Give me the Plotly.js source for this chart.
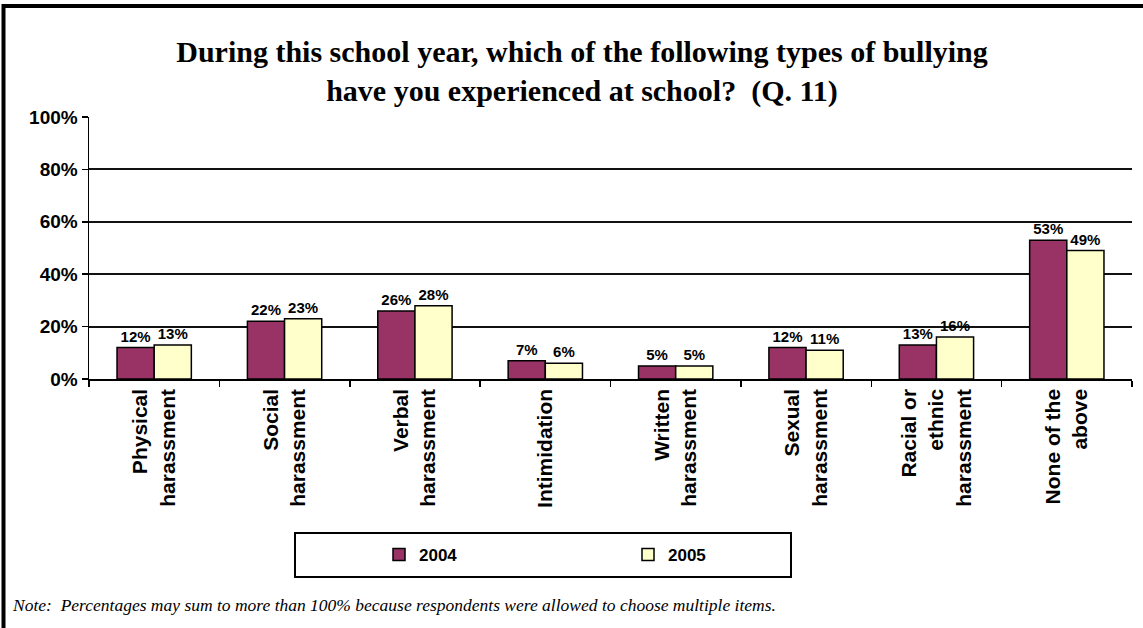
<!DOCTYPE html>
<html>
<head>
<meta charset="utf-8">
<script src="https://cdn.plot.ly/plotly-3.0.1.min.js"></script>
<style>
  html, body { margin: 0; padding: 0; background: #fff; }
  #chart { width: 1143px; height: 628px; }
</style>
</head>
<body>
<div id="chart"></div>
<script>
var categories = [
  "Physical<br>harassment",
  "Social<br>harassment",
  "Verbal<br>harassment",
  "Intimidation",
  "Written<br>harassment",
  "Sexual<br>harassment",
  "Racial or<br>ethnic<br>harassment",
  "None of the<br>above"
];
var values2004 = [12, 22, 26, 7, 5, 12, 13, 53];
var values2005 = [13, 23, 28, 6, 5, 11, 16, 49];
var seriesNames = ["2004", "2005"];
var yTickVals = [0, 20, 40, 60, 80, 100];
var titleText = "During this school year, which of the following types of bullying<br>have you experienced at school?  (Q. 11)";
var noteText = "Note:  Percentages may sum to more than 100% because respondents were allowed to choose multiple items.";

var labelFont = {family: "Arial, 'Liberation Sans', sans-serif", size: 15, color: "#000", weight: "bold"};

var traces = [
  {
    type: "bar",
    name: seriesNames[0],
    x: categories,
    y: values2004,
    marker: {color: "#993366", line: {color: "#000", width: 1.5}},
    text: values2004.map(function(v){ return v + "%"; }),
    textposition: "outside",
    textfont: labelFont,
    cliponaxis: false,
    hoverinfo: "x+y"
  },
  {
    type: "bar",
    name: seriesNames[1],
    x: categories,
    y: values2005,
    marker: {color: "#FFFFCC", line: {color: "#000", width: 1.5}},
    text: values2005.map(function(v){ return v + "%"; }),
    textposition: "outside",
    textfont: labelFont,
    cliponaxis: false,
    hoverinfo: "x+y"
  }
];

// plot area in px: x 89..1132, y 117..379
var L = 89, R = 1132, T = 117, B = 379;
function px(xp) { return (xp - L) / (R - L); }
function py(yp) { return (B - yp) / (B - T); }

var layout = {
  width: 1143,
  height: 628,
  margin: {l: L, r: 1143 - R, t: T, b: 628 - B, pad: 0},
  paper_bgcolor: "#fff",
  plot_bgcolor: "#fff",
  font: {family: "Arial, 'Liberation Sans', sans-serif", color: "#000"},
  title: {
    text: titleText,
    font: {family: "'Liberation Serif', 'Times New Roman', serif", size: 30, color: "#000", weight: "bold"},
    x: 582 / 1143,
    xanchor: "center",
    xref: "container",
    y: 1 - 62 / 628,
    yref: "container",
    yanchor: "middle"
  },
  barmode: "group",
  bargap: 0.43,
  bargroupgap: 0,
  showlegend: true,
  legend: {
    orientation: "h",
    x: px(379),
    xanchor: "left",
    y: py(555),
    yanchor: "middle",
    entrywidth: 204,
    entrywidthmode: "pixels",
    bgcolor: "rgba(0,0,0,0)",
    borderwidth: 0,
    font: {family: "Arial, 'Liberation Sans', sans-serif", size: 17, color: "#000", weight: "bold"}
  },
  xaxis: {
    type: "category",
    showline: true,
    linecolor: "#000",
    linewidth: 1.5,
    ticks: "outside",
    tickson: "boundaries",
    ticklen: 6,
    tickwidth: 1.5,
    tickcolor: "#000",
    tickangle: -90,
    tickfont: {family: "Arial, 'Liberation Sans', sans-serif", size: 21, color: "#000", weight: "bold"},
    showgrid: false,
    zeroline: false,
    fixedrange: true
  },
  yaxis: {
    range: [0, 100],
    tickvals: yTickVals,
    ticktext: yTickVals.map(function(v){ return v + "%"; }),
    showline: true,
    linecolor: "#000",
    linewidth: 1.5,
    ticks: "outside",
    ticklen: 6,
    tickwidth: 1.5,
    tickcolor: "#000",
    tickfont: {family: "Arial, 'Liberation Sans', sans-serif", size: 19, color: "#000", weight: "bold"},
    showgrid: true,
    gridcolor: "#111",
    gridwidth: 2,
    zeroline: false,
    fixedrange: true
  },
  shapes: [
    // legend box
    {type: "rect", xref: "paper", yref: "paper",
     x0: px(295), x1: px(791), y0: py(577), y1: py(533),
     line: {color: "#000", width: 2}, fillcolor: "rgba(0,0,0,0)", layer: "below"},
    // outer frame: top and left edges
    {type: "line", xref: "paper", yref: "paper",
     x0: px(3.5), x1: px(1143), y0: py(6), y1: py(6),
     line: {color: "#000", width: 4}},
    {type: "line", xref: "paper", yref: "paper",
     x0: px(3.5), x1: px(3.5), y0: py(4), y1: py(628),
     line: {color: "#000", width: 4}}
  ],
  annotations: [
    {
      text: noteText,
      xref: "paper", yref: "paper",
      x: px(10), y: py(605),
      xanchor: "left", yanchor: "middle",
      showarrow: false,
      font: {family: "'Liberation Serif', 'Times New Roman', serif", size: 17.5, color: "#000", style: "italic"}
    }
  ]
};

Plotly.newPlot("chart", traces, layout, {displayModeBar: false, staticPlot: true});
</script>
</body>
</html>
